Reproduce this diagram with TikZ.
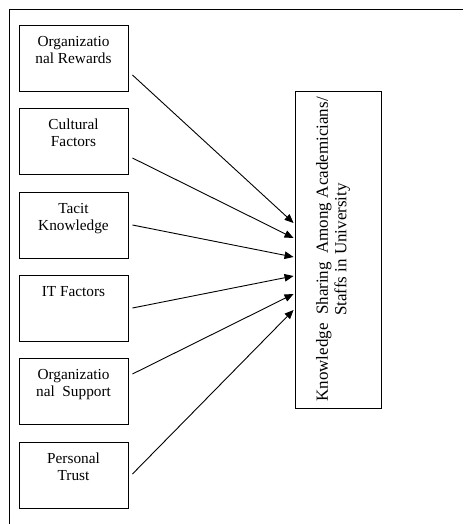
\documentclass[tikz,border=0pt]{standalone}
\usepackage{fontspec}
\setmainfont{Liberation Serif}
\usetikzlibrary{arrows.meta,calc}
\tikzset{
  frame/.style={line width=0.9pt},
  box/.style={draw, line width=0.9pt, minimum width=109pt, minimum height=66pt, inner sep=0pt},
  lbl/.style={anchor=north, inner sep=0pt, align=center, font=\fontsize{15.3}{17}\selectfont},
  bigbox/.style={draw, line width=0.9pt, minimum width=86pt, minimum height=317pt, inner sep=0pt},
  biglbl/.style={rotate=90, inner sep=0pt, align=center, font=\fontsize{17}{18.5}\selectfont},
  arr/.style={line width=0.9pt, -{Triangle[length=9pt,width=7.5pt]}}
}
\begin{document}
\begin{tikzpicture}[x=1pt,y=-1pt]
\useasboundingbox (0,0) rectangle (463,524);
\draw[frame] (9,524) -- (9,9) -- (463,9);
\node[box] (b1) at (73.5,58) {};
\node[box] (b2) at (73.5,141) {};
\node[box] (b3) at (73.5,225) {};
\node[box] (b4) at (73.5,308) {};
\node[box] (b5) at (73.5,391) {};
\node[box] (b6) at (73.5,475) {};
\node[lbl] (l1) at ($(b1.north)+(0,11.5)$) {Organizatio\\nal Rewards};
\node[lbl] (l2) at ($(b2.north)+(0,11.5)$) {Cultural\\Factors};
\node[lbl] (l3) at ($(b3.north)+(0,11.5)$) {Tacit\\Knowledge};
\node[lbl] (l4) at ($(b4.north)+(0,11.5)$) {IT Factors};
\node[lbl] (l5) at ($(b5.north)+(0,11.5)$) {Organizatio\\nal\ \ Support};
\node[lbl] (l6) at ($(b6.north)+(0,11.5)$) {Personal\\Trust};
\node[bigbox] (k) at (338,249.5) {};
\node[biglbl] (kl) at (333,249.5) {Knowledge\ \ Sharing\ \ Among Academicians/\\Staffs in University};
\coordinate (s1) at ($(b1.east)+(4,17)$);
\coordinate (s2) at ($(b2.east)+(4,17)$);
\coordinate (s3) at ($(b3.east)+(4,0)$);
\coordinate (s4) at ($(b4.east)+(4,0)$);
\coordinate (s5) at ($(b5.east)+(4,-17)$);
\coordinate (s6) at ($(b6.east)+(4,-1)$);
\coordinate (t1) at ($(k.west)+(-1,-26.5)$);
\coordinate (t2) at ($(k.west)+(-1,-11.5)$);
\coordinate (t3) at ($(k.west)+(-1,7.5)$);
\coordinate (t4) at ($(k.west)+(-1,26.5)$);
\coordinate (t5) at ($(k.west)+(-1,44.5)$);
\coordinate (t6) at ($(k.west)+(-1,60.5)$);
\foreach \i in {1,...,6} {\draw[arr] (s\i) -- (t\i);}
\end{tikzpicture}
\end{document}
